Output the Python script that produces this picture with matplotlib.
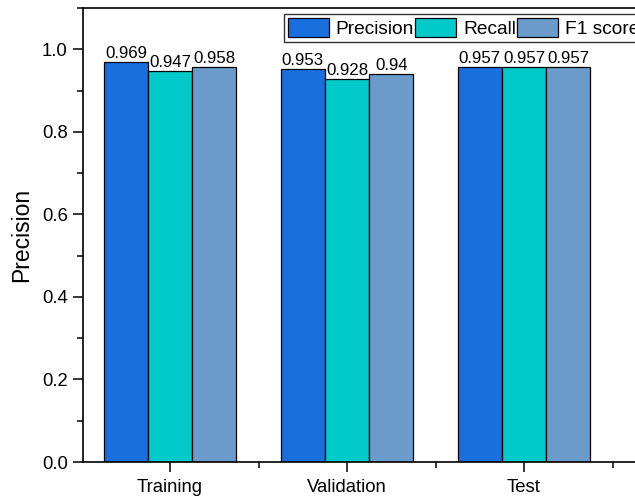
import numpy as np
import matplotlib
matplotlib.use("Agg")
from matplotlib import pyplot as plt
from matplotlib.ticker import MultipleLocator, FixedLocator

plt.rcParams['font.family'] = ['Liberation Sans', 'DejaVu Sans']

categories = ["Training", "Validation", "Test"]
series_names = ["Precision", "Recall", "F1 score"]
precision = [0.969, 0.953, 0.957]
recall = [0.947, 0.928, 0.957]
f1_score = [0.958, 0.94, 0.957]
value_labels = [
    ["0.969", "0.953", "0.957"],
    ["0.947", "0.928", "0.957"],
    ["0.958", "0.94", "0.957"],
]
colors = ["#1A6FDF", "#00CACA", "#6A9BCB"]

fig = plt.figure(figsize=(6.35, 4.98), dpi=100)
ax = fig.add_axes([83/635, 1 - 462/498, 562/635, (462 - 8)/498])

x = np.arange(1, len(categories) + 1)
w = 0.25
handles = []
for i, (vals, name) in enumerate(zip([precision, recall, f1_score], series_names)):
    bars = ax.bar(x + (i - 1)*w, vals, w, color=colors[i], edgecolor="black",
                  linewidth=0.9, label=name, zorder=2)
    ax.bar_label(bars, labels=value_labels[i], padding=0.5, fontsize=12.2)
    handles.append(bars)

# axes run past the right edge of the figure, as in the original crop
ax.set_xlim(0.508, 1 + (645 - 170)/177)
ax.set_ylim(0, 1.1)
ax.set_xticks(x)
ax.set_xticklabels(categories)
ax.xaxis.set_minor_locator(FixedLocator([1.5, 2.5, 3.5]))
ax.yaxis.set_major_locator(MultipleLocator(0.2))
ax.yaxis.set_minor_locator(MultipleLocator(0.1))
ax.yaxis.set_major_formatter(matplotlib.ticker.FormatStrFormatter("%.1f"))

ax.tick_params(axis="both", which="major", direction="out", length=7, width=1.1,
               labelsize=13.3, pad=4)
ax.tick_params(axis="x", which="major", pad=5)
ax.tick_params(axis="both", which="minor", direction="out", length=4, width=1.1)
for s in ax.spines.values():
    s.set_linewidth(1.2)

ax.set_ylabel("Precision", fontsize=16.5, labelpad=6)

fig.legend(handles=handles, labels=series_names, loc="upper left",
           bbox_to_anchor=(284/635, 1 - 14/498), ncol=3, fontsize=13.8,
           frameon=True, fancybox=False, edgecolor="#333333", framealpha=1,
           borderaxespad=0, borderpad=0.2, handlelength=2.15, handleheight=1.15,
           handletextpad=0.35, columnspacing=0.05)

fig.savefig("out.png", dpi=100)
